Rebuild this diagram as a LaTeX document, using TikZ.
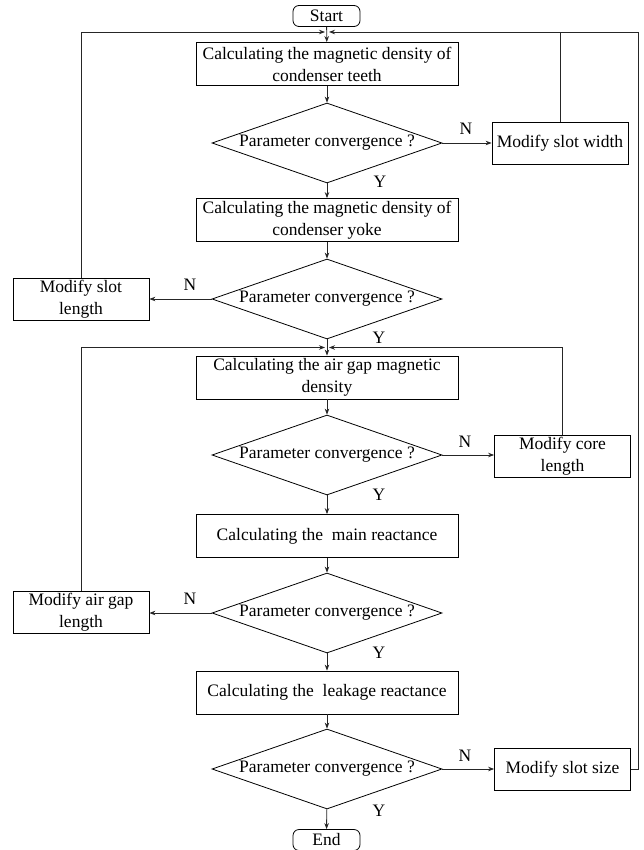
\documentclass[tikz,border=0pt]{standalone}
\usepackage{fontspec}
\setmainfont{Liberation Serif}
\usetikzlibrary{shapes.geometric,arrows.meta}
\begin{document}
\begin{tikzpicture}[x=1pt,y=-1pt,
  every node/.style={font=\fontsize{17.5}{22}\selectfont},
  proc/.style={draw, line width=0.8pt, minimum width=262pt, minimum height=43pt, inner sep=1pt, align=center},
  side/.style={draw, line width=0.8pt, minimum width=136pt, minimum height=42pt, inner sep=1pt, align=center},
  term/.style={draw, line width=0.8pt, rounded corners=6pt, minimum width=67pt, minimum height=21pt, inner sep=0pt},
  dec/.style={draw, line width=0.8pt, diamond, aspect=2.875, minimum width=230pt, minimum height=80pt, inner sep=0pt},
  conn/.style={line width=0.8pt, draw=black!85},
  arr/.style={conn, -{Stealth[length=6pt,width=4.5pt]}},
  lab/.style={inner sep=0pt}
]
\useasboundingbox (0,0) rectangle (644,850);

\node[term] (start) at (326.5,16) {Start};
\node[proc] (b1) at (327,64) {Calculating the magnetic density of\\condenser teeth};
\node[dec]  (d1) at (327,143) {Parameter convergence ?};
\node[side] (sw) at (560,143) {Modify slot width};
\node[proc] (b2) at (327,220) {Calculating the magnetic density of\\condenser yoke};
\node[dec]  (d2) at (327,299) {Parameter convergence ?};
\node[side] (sl) at (81,299) {Modify slot\\length};
\node[proc] (b3) at (327,377.5) {Calculating the air gap magnetic\\density};
\node[dec]  (d3) at (327,455) {Parameter convergence ?};
\node[side] (cl) at (562.5,456.5) {Modify core\\length};
\node[proc] (b4) at (327,536) {Calculating the\ \ main reactance};
\node[dec]  (d4) at (327,613) {Parameter convergence ?};
\node[side] (al) at (81,612.5) {Modify air gap\\length};
\node[proc] (b5) at (327,692.5) {Calculating the\ \ leakage reactance};
\node[dec]  (d5) at (327,769) {Parameter convergence ?};
\node[side] (ss) at (562.5,769.5) {Modify slot size};
\node[term] (end) at (326.5,840) {End};

\coordinate (tl) at (325,32);
\coordinate (tr) at (329,32);
\coordinate (ml) at (325,347.5);
\coordinate (mr) at (329,347.5);
\coordinate (redge) at (638,32);

% main flow
\draw[arr] (start) -- (b1);
\draw[arr] (b1) -- (d1);
\draw[arr] (d1) -- (b2);
\draw[arr] (b2) -- (d2);
\draw[arr] (d2) -- (b3);
\draw[arr] (b3) -- (d3);
\draw[arr] (d3) -- (b4);
\draw[arr] (b4) -- (d4);
\draw[arr] (d4) -- (b5);
\draw[arr] (b5) -- (d5);
\draw[arr] (d5) -- (end);

% N branches
\draw[arr] (d1.east) -- (d1.east -| sw.west);
\draw[arr] (d2.west) -- (d2.west -| sl.east);
\draw[arr] (d3.east) -- (d3.east -| cl.west);
\draw[arr] (d4.west) -- (d4.west -| al.east);
\draw[arr] (d5.east) -- (d5.east -| ss.west);

% feedback
\draw[conn] (sw.north) -- (sw.north |- redge);
\draw[arr] (ss.east) -| (redge) -- (tr);
\draw[arr] (sl.north) |- (tl);
\draw[arr] (cl.north) |- (mr);
\draw[arr] (al.north) |- (ml);

% labels
\node[lab] (n1) at (466,129) {N};
\node[lab] (n2) at (190,285) {N};
\node[lab] (n3) at (465,442) {N};
\node[lab] (n4) at (190,599) {N};
\node[lab] (n5) at (465,756) {N};
\node[lab] (y1) at (380,182) {Y};
\node[lab] (y2) at (379,338) {Y};
\node[lab] (y3) at (379,495) {Y};
\node[lab] (y4) at (379,653) {Y};
\node[lab] (y5) at (379,811) {Y};
\end{tikzpicture}
\end{document}
